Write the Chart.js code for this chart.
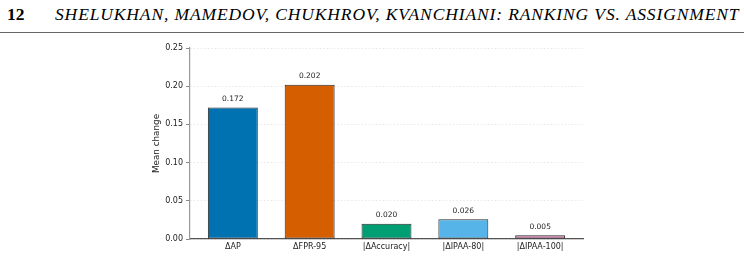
<!DOCTYPE html>
<html>
<head>
<meta charset="utf-8">
<script src="https://cdn.jsdelivr.net/npm/chart.js@4/dist/chart.umd.min.js"></script>
<style>
  html, body { margin: 0; padding: 0; background: #fff; }
  body { width: 744px; height: 257px; position: relative; overflow: hidden; }
  #head { position: absolute; left: 0; top: 0; width: 744px; height: 32px; font-family: "Liberation Serif", serif; font-size: 17.5px; }
  #pg { position: absolute; left: 7px; top: 4px; font-weight: bold; }
  #runhead { position: absolute; left: 55px; top: 4px; font-style: italic; white-space: nowrap; letter-spacing: 0.87px; }
  #rule { position: absolute; left: 0; top: 31.5px; width: 744px; height: 0; border-top: 1.5px solid #666; }
  #wrap { position: absolute; left: 0; top: 0; width: 744px; height: 257px; }
</style>
</head>
<body>
<div id="head">
  <span id="pg">12</span>
  <span id="runhead">SHELUKHAN, MAMEDOV, CHUKHROV, KVANCHIANI: RANKING VS. ASSIGNMENT</span>
  <div id="rule"></div>
</div>
<div id="wrap"><canvas id="meanChart" width="744" height="257"></canvas></div>
<script>
const categories = ['ΔAP', 'ΔFPR-95', '|ΔAccuracy|', '|ΔIPAA-80|', '|ΔIPAA-100|'];
const meanChange = [0.172, 0.202, 0.020, 0.026, 0.005];
const barColors = ['#0072B2', '#D55E00', '#009E73', '#56B4E9', '#CC79A7'];
const yTicks = [0, 0.05, 0.10, 0.15, 0.20, 0.25];

// draw value text above each bar
const valueLabels = {
  id: 'valueLabels',
  afterDatasetsDraw(chart) {
    const ctx = chart.ctx;
    const meta = chart.getDatasetMeta(0);
    ctx.save();
    ctx.font = '7.5px "DejaVu Sans"';
    ctx.fillStyle = '#222';
    ctx.textAlign = 'center';
    ctx.textBaseline = 'middle';
    meta.data.forEach((bar, i) => {
      ctx.fillText(meanChange[i].toFixed(3), bar.x, bar.y - 8.5);
    });
    ctx.restore();
  }
};

const ctx = document.getElementById('meanChart').getContext('2d');
new Chart(ctx, {
  type: 'bar',
  data: {
    datasets: [{
      data: meanChange.map((v, i) => ({ x: i, y: v })),
      backgroundColor: barColors,
      borderColor: '#2a2a2a',
      borderWidth: 1,
      borderSkipped: false,
      categoryPercentage: 1,
      barPercentage: 0.65,
    }],
  },
  options: {
    responsive: false,
    animation: false,
    layout: { padding: { left: 149, top: 48, right: 161, bottom: 0 } },
    scales: {
      x: {
        type: 'linear',
        offset: false,
        min: -0.5575,
        max: 4.5575,
        afterBuildTicks: (scale) => { scale.ticks = categories.map((c, i) => ({ value: i })); },
        afterFit: (scale) => { scale.height = 18; },
        grid: { display: false, drawTicks: false, tickLength: 0, offset: false },
        border: { display: true, color: '#555', width: 1.2 },
        ticks: {
          padding: 3,
          color: '#222',
          font: { family: 'DejaVu Sans', size: 8 },
          maxRotation: 0,
          autoSkip: false,
          callback: (v) => categories[v],
        },
      },
      y: {
        min: 0,
        max: 0.25,
        afterBuildTicks: (scale) => { scale.ticks = yTicks.map(v => ({ value: v })); },
        afterFit: (scale) => { scale.width = 41; },
        grid: { color: '#e2e2e2', lineWidth: 0.8, tickColor: '#888', tickLength: 4, tickWidth: 1 },
        border: { display: true, color: '#999', width: 1.2, dash: [1.5, 2] },
        ticks: {
          padding: 3,
          color: '#222',
          font: { family: 'DejaVu Sans', size: 8 },
          callback: (v) => v.toFixed(2),
        },
        title: {
          display: true,
          text: 'Mean change',
          color: '#222',
          font: { family: 'DejaVu Sans', size: 8.8 },
          padding: { top: 2, bottom: 0 },
        },
      },
    },
    plugins: {
      legend: { display: false },
      tooltip: { enabled: false },
    },
  },
  plugins: [valueLabels],
});
</script>
</body>
</html>
